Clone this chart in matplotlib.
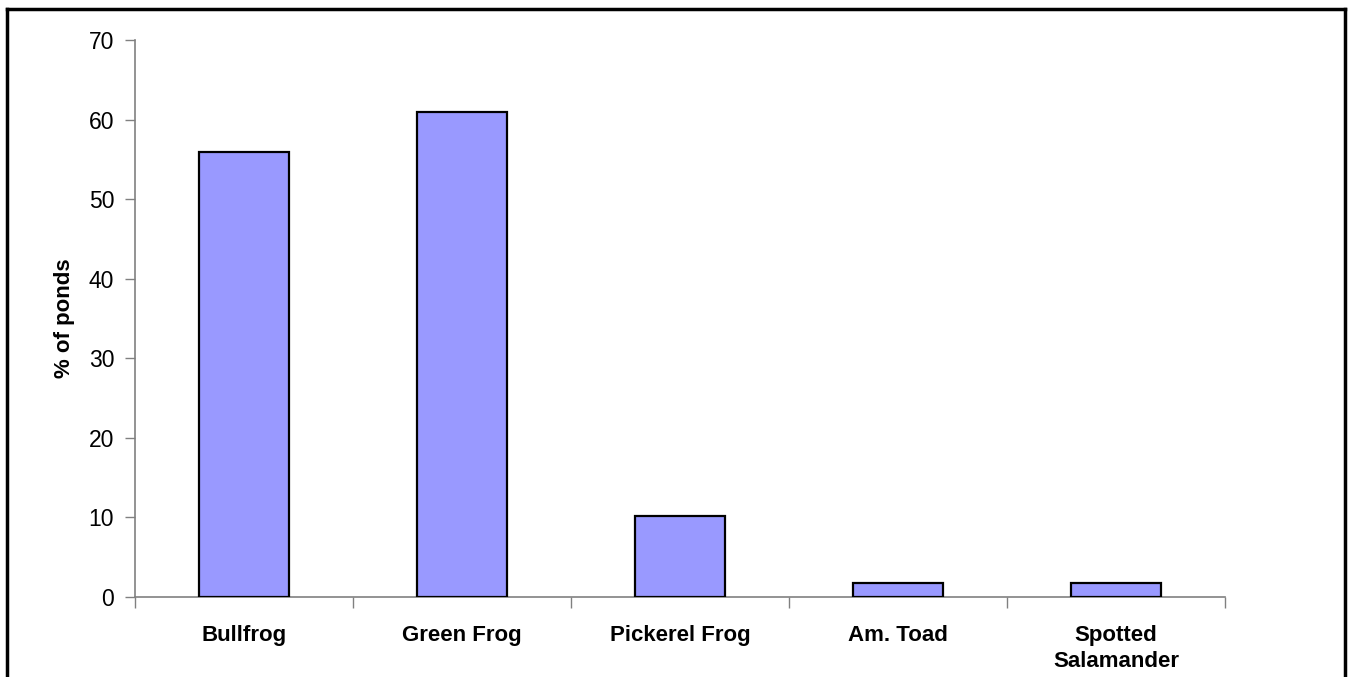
import matplotlib
matplotlib.use("Agg")
import matplotlib.pyplot as plt
from matplotlib.lines import Line2D
import numpy as np

species = ["Bullfrog", "Green Frog", "Pickerel Frog", "Am. Toad", "Spotted\nSalamander"]
pct_ponds = [55.9, 61.0, 10.2, 1.7, 1.7]
yticks = [0, 10, 20, 30, 40, 50, 60, 70]

plt.rcParams["font.family"] = ["Liberation Sans", "DejaVu Sans"]

fig = plt.figure(figsize=(13.49, 6.77), dpi=100)
ax = fig.add_axes([135 / 1349, 80 / 677, 1090 / 1349, 557 / 677])

x = np.arange(len(species))
ax.bar(x, pct_ponds, width=0.41, color="#9999ff", edgecolor="black", linewidth=1.6, zorder=3)

ax.set_xlim(-0.5, len(species) - 0.5)
ax.set_ylim(0, 70)
ax.set_yticks(yticks)
ax.tick_params(axis="y", direction="out", length=7, width=1, color="#808080", labelsize=16.5, pad=8)

# ticks between categories, labels centred under bars
ax.set_xticks(np.arange(len(species) + 1) - 0.5)
ax.set_xticklabels([])
ax.set_xticks(x, minor=True)
ax.set_xticklabels(species, minor=True, fontsize=16, fontweight="bold", linespacing=1.3, va="top")
ax.tick_params(axis="x", which="major", direction="out", length=8, width=1, color="#808080")
ax.tick_params(axis="x", which="minor", length=0, pad=20)

ax.set_ylabel("% of ponds", fontsize=16, fontweight="bold", labelpad=10)

for side in ["top", "right"]:
    ax.spines[side].set_visible(False)
for side in ["left", "bottom"]:
    ax.spines[side].set_color("#808080")
    ax.spines[side].set_linewidth(1.2)

# outer frame around the chart
W, H = 1349, 677
frame = dict(color="black", linewidth=2.5, transform=fig.transFigure, clip_on=False)
fig.add_artist(Line2D([7 / W, 7 / W], [0, 1 - 9 / H], **frame))
fig.add_artist(Line2D([7 / W, 1345 / W], [1 - 9 / H, 1 - 9 / H], **frame))
fig.add_artist(Line2D([1345 / W, 1345 / W], [0, 1 - 9 / H], **frame))

fig.savefig("out.png", dpi=100)
